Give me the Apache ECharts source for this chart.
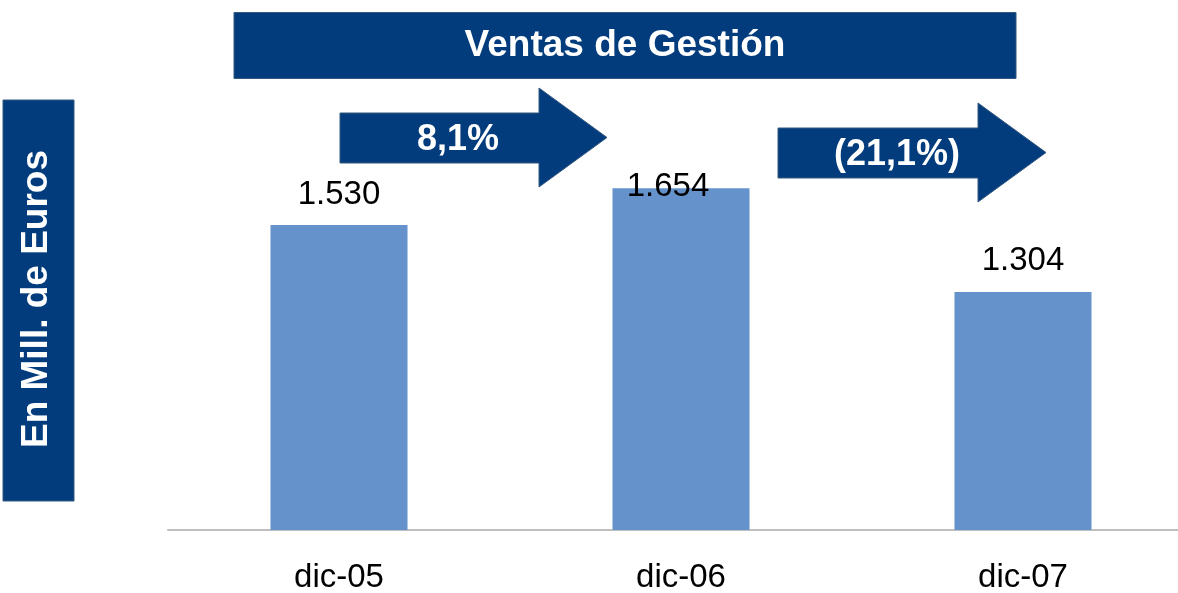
<!DOCTYPE html>
<html>
<head>
<meta charset="utf-8">
<script src="https://cdn.jsdelivr.net/npm/echarts@6/dist/echarts.min.js"></script>
<style>
  html, body { margin: 0; padding: 0; background: #fff; }
  #chart { width: 1178px; height: 593px; }
</style>
</head>
<body>
<div id="chart"></div>
<script>
// datos
const categories = ['dic-05', 'dic-06', 'dic-07']
const ventas = [1530, 1654, 1304]
const growthLabels = ['8,1%', '(21,1%)']
const titleText = 'Ventas de Gestión'
const unitText = 'En Mill. de Euros'

const darkBlue = '#023c7c'
const boxBorder = '#35587f'
const barColor = '#6592cb'
const fontFamily = '"Liberation Sans", Arial, sans-serif'

const chart = echarts.init(document.getElementById('chart'))

// formato 1530 -> 1.530
const fmt = v => String(v).replace(/\B(?=(\d{3})+(?!\d))/g, '.')

function arrow(x0, x1, xTip, yTop, yBot, yHeadTop, yHeadBot) {
  const yMid = (yHeadTop + yHeadBot) / 2
  return {
    type: 'polygon',
    shape: {
      points: [[x0, yTop], [x1, yTop], [x1, yHeadTop], [xTip, yMid], [x1, yHeadBot], [x1, yBot], [x0, yBot]]
    },
    style: { fill: darkBlue, stroke: boxBorder, lineWidth: 1 },
    z: 10
  }
}

const option = {
  animation: false,
  grid: { left: 168, width: 1026, top: 145, bottom: 63, outerBoundsMode: 'none' },
  xAxis: {
    type: 'category',
    data: categories,
    axisLine: { lineStyle: { color: '#bfbfbf', width: 2 } },
    axisTick: { show: false },
    axisLabel: {
      color: '#000',
      fontSize: 33,
      lineHeight: 33,
      fontFamily: fontFamily,
      margin: 31
    }
  },
  yAxis: {
    type: 'value',
    min: 500,
    max: 1800,
    show: false,
    splitLine: { show: false }
  },
  series: [{
    type: 'bar',
    barWidth: 137,
    itemStyle: { color: barColor },
    label: {
      show: true,
      position: 'top',
      distance: 14,
      color: '#000',
      fontSize: 33,
      lineHeight: 33,
      fontFamily: fontFamily,
      formatter: p => fmt(p.value)
    },
    data: ventas.map((v, i) => i === 1
      ? { value: v, label: { offset: [-13, 29] } }
      : v)
  }],
  graphic: [
    {
      type: 'rect',
      shape: { x: 234, y: 12.5, width: 782, height: 66 },
      style: { fill: darkBlue, stroke: boxBorder, lineWidth: 1 },
      z: 10
    },
    {
      type: 'text',
      x: 625, y: 46,
      style: {
        text: titleText, fill: '#fff', fontSize: 37, fontWeight: 'bold',
        fontFamily: fontFamily, align: 'center', verticalAlign: 'middle'
      },
      z: 11
    },
    {
      type: 'rect',
      shape: { x: 3, y: 100, width: 71, height: 401 },
      style: { fill: darkBlue, stroke: boxBorder, lineWidth: 1 },
      z: 10
    },
    {
      type: 'text',
      x: 37, y: 299,
      rotation: Math.PI / 2,
      style: {
        text: unitText, fill: '#fff', fontSize: 37, fontWeight: 'bold',
        fontFamily: fontFamily, align: 'center', verticalAlign: 'middle'
      },
      z: 11
    },
    arrow(340, 539, 607, 113, 163, 88, 187),
    arrow(778, 978, 1046, 128, 178, 103, 202),
    {
      type: 'text',
      x: 458, y: 140,
      style: {
        text: growthLabels[0], fill: '#fff', fontSize: 36, fontWeight: 'bold',
        fontFamily: fontFamily, align: 'center', verticalAlign: 'middle'
      },
      z: 11
    },
    {
      type: 'text',
      x: 897, y: 155,
      style: {
        text: growthLabels[1], fill: '#fff', fontSize: 36, fontWeight: 'bold',
        fontFamily: fontFamily, align: 'center', verticalAlign: 'middle'
      },
      z: 11
    }
  ]
}

chart.setOption(option)
</script>
</body>
</html>
